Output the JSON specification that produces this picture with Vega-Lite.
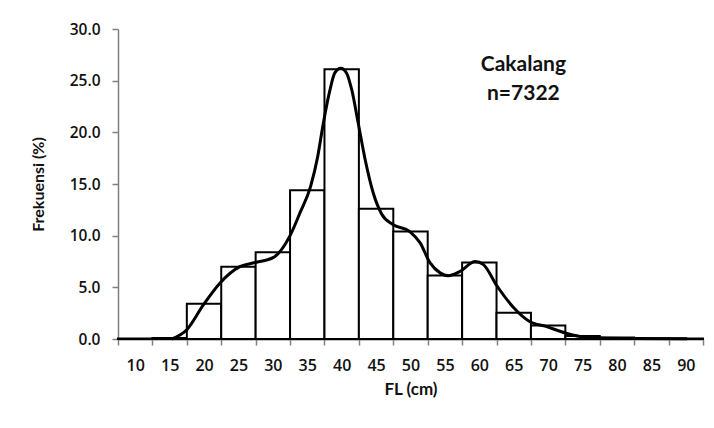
{
  "$schema": "https://vega.github.io/schema/vega-lite/v6.json",
  "width": 585,
  "height": 310,
  "autosize": {"type": "none"},
  "padding": {"left": 118, "top": 29, "right": 11, "bottom": 89},
  "background": "white",
  "config": {
    "view": {"stroke": null},
    "font": "Lato",
    "axis": {"grid": false}
  },
  "datasets": {
    "bars": [
      {"FL": 10, "pct": 0.05}, {"FL": 15, "pct": 0.1}, {"FL": 20, "pct": 3.4},
      {"FL": 25, "pct": 7.0}, {"FL": 30, "pct": 8.4}, {"FL": 35, "pct": 14.4},
      {"FL": 40, "pct": 26.1}, {"FL": 45, "pct": 12.6}, {"FL": 50, "pct": 10.4},
      {"FL": 55, "pct": 6.15}, {"FL": 60, "pct": 7.4}, {"FL": 65, "pct": 2.55},
      {"FL": 70, "pct": 1.3}, {"FL": 75, "pct": 0.3}, {"FL": 80, "pct": 0.15},
      {"FL": 85, "pct": 0.05}, {"FL": 90, "pct": 0.05}
    ],
    "curve": [
      {"x": 15.3, "y": 0}, {"x": 17.5, "y": 0.9}, {"x": 19.9, "y": 3.3},
      {"x": 22.3, "y": 5.4}, {"x": 25.2, "y": 7.0}, {"x": 27.4, "y": 7.4},
      {"x": 30.1, "y": 7.9}, {"x": 32.5, "y": 10.0},
      {"x": 34.0, "y": 12.3}, {"x": 35.5, "y": 14.8}, {"x": 36.5, "y": 17.6},
      {"x": 37.34, "y": 20.9}, {"x": 38.3, "y": 24.1},
      {"x": 39.0, "y": 25.75}, {"x": 39.87, "y": 26.2}, {"x": 40.7, "y": 25.75},
      {"x": 41.47, "y": 24.1}, {"x": 42.4, "y": 20.9}, {"x": 43.4, "y": 17.4},
      {"x": 44.6, "y": 14.1}, {"x": 45.8, "y": 12.1}, {"x": 47.5, "y": 11.06},
      {"x": 49.9, "y": 10.4}, {"x": 51.4, "y": 9.3}, {"x": 52.85, "y": 7.36},
      {"x": 54.3, "y": 6.4}, {"x": 55.5, "y": 6.13}, {"x": 57.2, "y": 6.55},
      {"x": 59.4, "y": 7.5}, {"x": 60.6, "y": 7.2}, {"x": 62.5, "y": 5.2},
      {"x": 64.9, "y": 3.1}, {"x": 67.3, "y": 1.7}, {"x": 69.7, "y": 1.22},
      {"x": 72.5, "y": 0.58}, {"x": 74.6, "y": 0.25}, {"x": 77.5, "y": 0.1},
      {"x": 83.0, "y": 0.05}, {"x": 90.2, "y": 0.03}
    ]
  },
  "resolve": {"scale": {"x": "independent"}},
  "layer": [
    {
      "data": {"name": "bars"},
      "mark": {"type": "bar", "fill": "white", "stroke": "black", "strokeWidth": 2},
      "encoding": {
        "x": {
          "field": "FL", "type": "ordinal",
          "scale": {"paddingInner": 0, "paddingOuter": 0},
          "axis": {
            "title": "FL (cm)", "labelAngle": 0, "tickBand": "extent",
            "domainColor": "#808080", "domainWidth": 2,
            "tickColor": "#808080", "tickWidth": 1.5, "tickSize": 6,
            "labelFont": "Open Sans", "labelFontSize": 16, "labelFontWeight": 600, "labelColor": "#111", "labelPadding": 12,
            "titleFontSize": 17, "titleFontWeight": "bold", "titleColor": "#111",
            "titlePadding": 8
          }
        },
        "y": {
          "field": "pct", "type": "quantitative",
          "scale": {"domain": [0, 30]},
          "axis": {
            "title": "Frekuensi (%)", "values": [0, 5, 10, 15, 20, 25, 30],
            "format": ".1f",
            "domainColor": "#808080", "domainWidth": 1.5,
            "tickColor": "#808080", "tickWidth": 1.5, "tickSize": 6,
            "labelFont": "Open Sans", "labelFontSize": 15.5, "labelFontWeight": 600, "labelColor": "#111", "labelPadding": 12,
            "titleFontSize": 16, "titleFontWeight": "bold", "titleColor": "#111",
            "titlePadding": 23
          }
        }
      }
    },
    {
      "layer": [
        {
          "data": {"name": "curve"},
          "mark": {"type": "line", "interpolate": "monotone", "color": "black", "strokeWidth": 3},
          "encoding": {
            "x": {"field": "x", "type": "quantitative", "scale": {"domain": [7.5, 92.5], "nice": false, "zero": false}, "axis": null},
            "y": {"field": "y", "type": "quantitative"}
          }
        },
        {
          "data": {"values": [{}]},
          "mark": {"type": "text", "text": ["Cakalang", "n=7322"], "fontSize": 21, "fontWeight": "bold", "baseline": "top", "align": "center", "lineHeight": 29, "color": "#111"},
          "encoding": {
            "x": {"datum": 66.4, "type": "quantitative", "scale": {"domain": [7.5, 92.5], "nice": false, "zero": false}, "axis": null},
            "y": {"datum": 27.6, "type": "quantitative"}
          }
        }
      ]
    }
  ]
}
